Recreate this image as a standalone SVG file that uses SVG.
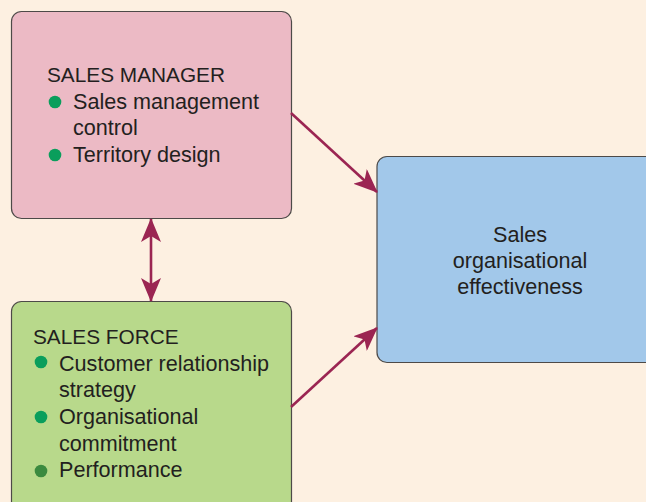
<svg xmlns="http://www.w3.org/2000/svg" width="646" height="502" viewBox="0 0 646 502">
<defs>
<style>
.box{stroke:#4d4a48;stroke-width:1.2}
.t{font-family:"Liberation Sans",Arial,sans-serif;font-size:21.6px;fill:#231f20}
.h{font-size:20.8px}
.b{fill:#0a9e5c}
.conn{stroke:#9b2552;stroke-width:2.6;fill:none}
</style>
<marker id="ah" viewBox="0 0 24 20" refX="23" refY="10" markerWidth="24" markerHeight="20" markerUnits="userSpaceOnUse" orient="auto-start-reverse">
<path d="M0,0 L24,10 L0,20 L6,10 Z" fill="#9b2552"/>
</marker>
</defs>
<rect width="646" height="502" fill="#fdf0e1"/>
<g id="sales-manager">
<rect class="box" x="11.5" y="11.5" width="280" height="207" rx="10" fill="#ecbac5"/>
<text class="t h" x="47" y="82">SALES MANAGER</text>
<circle class="b" cx="55" cy="102" r="6.3"/>
<text class="t" x="73" y="109">Sales management</text>
<text class="t" x="73" y="135">control</text>
<circle class="b" cx="55" cy="155" r="6.3"/>
<text class="t" x="73" y="162">Territory design</text>
</g>
<g id="sales-force">
<rect class="box" x="11.5" y="301.5" width="280" height="220" rx="10" fill="#b8d98b"/>
<text class="t h" x="33" y="344">SALES FORCE</text>
<circle class="b" cx="41" cy="362" r="6.3"/>
<text class="t" x="59" y="371">Customer relationship</text>
<text class="t" x="59" y="397">strategy</text>
<circle class="b" cx="41" cy="417" r="6.3"/>
<text class="t" x="59" y="424">Organisational</text>
<text class="t" x="59" y="451">commitment</text>
<circle cx="41" cy="471" r="6.3" fill="#3b8a3f"/>
<text class="t" x="59" y="477">Performance</text>
</g>
<g id="effectiveness">
<rect class="box" x="377" y="156.5" width="290" height="206" rx="10" fill="#a2c8ea"/>
<text class="t" x="520" y="242" text-anchor="middle">Sales</text>
<text class="t" x="520" y="268" text-anchor="middle">organisational</text>
<text class="t" x="520" y="294" text-anchor="middle">effectiveness</text>
</g>
<g id="connectors">
<line class="conn" x1="151" y1="219" x2="151" y2="301" marker-start="url(#ah)" marker-end="url(#ah)"/>
<line class="conn" x1="291" y1="113" x2="377" y2="192" marker-end="url(#ah)"/>
<line class="conn" x1="291" y1="407" x2="377" y2="328" marker-end="url(#ah)"/>
</g>
</svg>
